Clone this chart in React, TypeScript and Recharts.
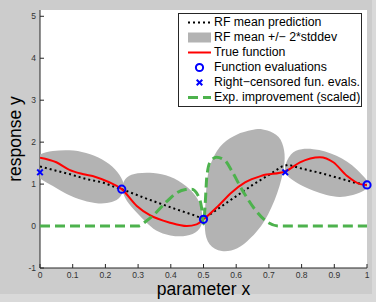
import {
  ComposedChart,
  XAxis,
  YAxis,
  Scatter,
  CartesianGrid,
  Legend,
  Curve,
} from 'recharts'

const FONT = '"Liberation Sans", Arial, Helvetica, sans-serif'

const xTicks = [0, 0.1, 0.2, 0.3, 0.4, 0.5, 0.6, 0.7, 0.8, 0.9, 1]
const yTicks = [-1, 0, 1, 2, 3, 4, 5]

// RF mean prediction (black dotted)
const meanX = [0, 0.049, 0.09, 0.141, 0.192, 0.232, 0.25, 0.33, 0.413, 0.474, 0.5, 0.515, 0.566, 0.596, 0.65, 0.7, 0.74, 0.76, 0.8, 0.86, 0.92, 0.96, 1]
const meanY = [1.42, 1.32, 1.24, 1.12, 1.04, 0.92, 0.88, 0.64, 0.41, 0.25, 0.17, 0.25, 0.53, 0.69, 0.98, 1.22, 1.42, 1.46, 1.37, 1.26, 1.13, 1.04, 0.98]

// true function (red)
const trueX = [0, 0.05, 0.09, 0.13, 0.17, 0.21, 0.25, 0.296, 0.336, 0.398, 0.449, 0.479, 0.5, 0.545, 0.586, 0.627, 0.678, 0.75, 0.795, 0.856, 0.897, 0.938, 0.979, 1]
const trueY = [1.63, 1.52, 1.34, 1.24, 1.17, 1.05, 0.88, 0.48, 0.26, 0.08, 0.0, 0.04, 0.16, 0.48, 0.8, 1.04, 1.2, 1.3, 1.52, 1.64, 1.52, 1.2, 1.0, 0.98]

// expected improvement, scaled (green dashed)
const eiX = [0, 0.3, 0.325, 0.347, 0.387, 0.42, 0.445, 0.464, 0.484, 0.494, 0.5, 0.505, 0.51, 0.52, 0.54, 0.566, 0.586, 0.617, 0.657, 0.698, 0.73, 1]
const eiY = [0, 0, 0.12, 0.26, 0.58, 0.8, 0.87, 0.88, 0.72, 0.44, 0.05, 0.5, 1.16, 1.52, 1.64, 1.56, 1.32, 0.88, 0.4, 0.08, 0, 0]

// function evaluations (blue circles) and right-censored ones (blue x)
const evalX = [0.25, 0.5, 1]
const evalY = [0.88, 0.16, 0.98]
const censX = [0, 0.75]
const censY = [1.28, 1.28]

// outlines of the mean +/- 2*stddev regions
const band1X = [-0.035, -0.01, 0.039, 0.09, 0.141, 0.192, 0.232, 0.255, 0.258, 0.248, 0.222, 0.181, 0.131, 0.08, 0.039, 0.0, -0.025]
const band1Y = [1.5, 1.7, 1.8, 1.82, 1.76, 1.6, 1.36, 1.08, 0.92, 0.68, 0.56, 0.52, 0.6, 0.76, 0.96, 1.12, 1.3]
const band2X = [0.25, 0.262, 0.296, 0.346, 0.398, 0.449, 0.477, 0.494, 0.499, 0.486, 0.449, 0.398, 0.352, 0.326, 0.275, 0.255]
const band2Y = [0.96, 1.18, 1.27, 1.28, 1.2, 0.96, 0.72, 0.48, 0.08, -0.12, -0.26, -0.24, -0.12, 0.08, 0.48, 0.72]
const band3X = [0.606, 0.637, 0.667, 0.693, 0.734, 0.749, 0.749, 0.729, 0.688, 0.642, 0.606, 0.554, 0.514, 0.502, 0.505, 0.51, 0.526, 0.556]
const band3Y = [2.21, 2.27, 2.33, 2.29, 2.16, 1.8, 1.44, 0.8, 0.08, -0.31, -0.56, -0.64, -0.46, -0.12, 0.44, 1.2, 1.61, 1.99]
const band4X = [0.744, 0.765, 0.8, 0.836, 0.872, 0.907, 0.94, 0.969, 0.992, 1.01, 0.995, 0.979, 0.95, 0.917, 0.876, 0.836, 0.8, 0.775, 0.755]
const band4Y = [1.36, 1.76, 1.85, 1.84, 1.79, 1.68, 1.54, 1.36, 1.16, 1.0, 0.86, 0.8, 0.72, 0.68, 0.73, 0.84, 0.96, 1.08, 1.2]

const pts = (xs: number[], ys: number[]) => xs.map((x, i) => ({ x, y: ys[i] }))

const bands = [pts(band1X, band1Y), pts(band2X, band2Y), pts(band3X, band3Y), pts(band4X, band4Y)]

const BAND = '#b3b3b3'
const BLUE = '#0000ff'
const GREEN = '#4db24d'
const AXIS = '#262626'

const noDot = () => <g />

// eslint-disable-next-line @typescript-eslint/no-explicit-any
const bandShape = (p: any) => <Curve points={p.points} type="basisClosed" fill={BAND} stroke="none" />

// eslint-disable-next-line @typescript-eslint/no-explicit-any
const curveOf = (type: string, stroke: string, width: number, dash?: string) => (p: any) => (
  // eslint-disable-next-line @typescript-eslint/no-explicit-any
  <Curve points={p.points} type={type as any} fill="none" stroke={stroke} strokeWidth={width} strokeDasharray={dash} />
)

// eslint-disable-next-line @typescript-eslint/no-explicit-any
const circleShape = (p: any) => <circle cx={p.cx} cy={p.cy} r={3.6} fill="none" stroke={BLUE} strokeWidth={2} />

// eslint-disable-next-line @typescript-eslint/no-explicit-any
const crossShape = (p: any) => (
  <g stroke={BLUE} strokeWidth={2}>
    <line x1={p.cx - 2.8} y1={p.cy - 2.8} x2={p.cx + 2.8} y2={p.cy + 2.8} />
    <line x1={p.cx - 2.8} y1={p.cy + 2.8} x2={p.cx + 2.8} y2={p.cy - 2.8} />
  </g>
)

const legendItems = [
  { kind: 'dots', label: 'RF mean prediction' },
  { kind: 'band', label: 'RF mean +/\u2212 2*stddev' },
  { kind: 'red', label: 'True function' },
  { kind: 'circle', label: 'Function evaluations' },
  { kind: 'cross', label: 'Right\u2212censored fun. evals.' },
  { kind: 'dash', label: 'Exp. improvement (scaled)' },
]

function LegendSymbol({ kind }: { kind: string }) {
  return (
    <svg width={35} height={15} style={{ display: 'block', flex: 'none' }}>
      {kind === 'dots' && <line x1={9} y1={7.5} x2={32} y2={7.5} stroke="#000" strokeWidth={2} strokeDasharray="2 3" />}
      {kind === 'band' && <rect x={9} y={2.5} width={23} height={10} fill={BAND} />}
      {kind === 'red' && <line x1={9} y1={7.5} x2={32} y2={7.5} stroke="#ff0000" strokeWidth={2} />}
      {kind === 'circle' && <circle cx={20.5} cy={7.5} r={3.6} fill="none" stroke={BLUE} strokeWidth={2} />}
      {kind === 'cross' && (
        <g stroke={BLUE} strokeWidth={2}>
          <line x1={17.7} y1={4.7} x2={23.3} y2={10.3} />
          <line x1={17.7} y1={10.3} x2={23.3} y2={4.7} />
        </g>
      )}
      {kind === 'dash' && <line x1={9} y1={7.5} x2={32} y2={7.5} stroke={GREEN} strokeWidth={3} strokeDasharray="10 5" />}
    </svg>
  )
}

function LegendBox() {
  return (
    <div
      style={{
        background: '#fff',
        border: `1px solid ${AXIS}`,
        width: 182,
        padding: '1px 0 1px 0',
        fontFamily: FONT,
        fontSize: 12.3,
        color: '#000',
      }}
    >
      {legendItems.map(it => (
        <div key={it.label} style={{ display: 'flex', alignItems: 'center', height: 15, whiteSpace: 'nowrap' }}>
          <LegendSymbol kind={it.kind} />
          <span style={{ lineHeight: '15px' }}>{it.label}</span>
        </div>
      ))}
    </div>
  )
}

// eslint-disable-next-line @typescript-eslint/no-explicit-any
const xLabel = (p: any) => (
  <text x={p.viewBox.x + p.viewBox.width / 2} y={p.viewBox.y + 27} textAnchor="middle" fontSize={17.5} fontFamily={FONT} fill="#000">
    parameter x
  </text>
)

// eslint-disable-next-line @typescript-eslint/no-explicit-any
const yLabel = (p: any) => {
  const cx = p.viewBox.x + 5
  const cy = p.viewBox.y + p.viewBox.height / 2
  return (
    <text x={cx} y={cy} transform={`rotate(-90 ${cx} ${cy})`} textAnchor="middle" dominantBaseline="central" fontSize={17.5} fontFamily={FONT} fill="#000">
      response y
    </text>
  )
}

const tickStyle = { fontSize: 8.5, fill: '#333', fontFamily: FONT }

export default function App() {
  return (
    <div style={{ position: 'absolute', left: 0, top: 0, width: 376, height: 302, background: '#d9d9d9' }}>
      <div style={{ position: 'absolute', left: 0, top: 0, width: 372, height: 294, background: '#cccccc' }} />
      <div style={{ position: 'absolute', left: 0, top: 0 }}>
        <ComposedChart width={376} height={302} margin={{ top: 10, right: 9, bottom: 14, left: 10 }}>
          <CartesianGrid fill="#ffffff" horizontal={false} vertical={false} />
          <XAxis
            xAxisId="main"
            type="number"
            dataKey="x"
            domain={[0, 1]}
            ticks={xTicks}
            interval={0}
            allowDataOverflow
            height={20}
            tickSize={-4}
            tickMargin={8}
            stroke={AXIS}
            tick={tickStyle}
            tickFormatter={(v: number) => String(v)}
            label={{ content: xLabel }}
          />
          <XAxis
            xAxisId="top"
            orientation="top"
            type="number"
            dataKey="x"
            domain={[0, 1]}
            ticks={xTicks}
            interval={0}
            height={0}
            tickSize={-4}
            tick={false}
            stroke={AXIS}
          />
          <YAxis
            yAxisId="main"
            type="number"
            dataKey="y"
            domain={[-1, 5.15]}
            ticks={yTicks}
            interval={0}
            allowDataOverflow
            width={30}
            tickSize={-4}
            tickMargin={8}
            stroke={AXIS}
            tick={tickStyle}
            label={{ content: yLabel }}
          />
          <YAxis
            yAxisId="right"
            orientation="right"
            type="number"
            dataKey="y"
            domain={[-1, 5.15]}
            ticks={yTicks}
            interval={0}
            width={0}
            tickSize={-4}
            tick={false}
            stroke={AXIS}
          />

          {bands.map((b, i) => (
            <Scatter
              key={i}
              name={`band${i}`}
              xAxisId="main"
              yAxisId="main"
              data={b}
              shape={noDot}
              line={bandShape}
              legendType="none"
              isAnimationActive={false}
            />
          ))}

          <Scatter
            name="RF mean prediction"
            xAxisId="main"
            yAxisId="main"
            data={pts(meanX, meanY)}
            shape={noDot}
            line={curveOf('linear', '#000', 2, '2 3')}
            isAnimationActive={false}
          />
          <Scatter
            name="True function"
            xAxisId="main"
            yAxisId="main"
            data={pts(trueX, trueY)}
            shape={noDot}
            line={curveOf('monotoneX', '#ff0000', 2)}
            isAnimationActive={false}
          />
          <Scatter
            name="Exp. improvement (scaled)"
            xAxisId="main"
            yAxisId="main"
            data={pts(eiX, eiY)}
            shape={noDot}
            line={curveOf('monotoneX', GREEN, 3, '10 5')}
            isAnimationActive={false}
          />
          <Scatter name="Function evaluations" xAxisId="top" yAxisId="right" data={pts(evalX, evalY)} shape={circleShape} isAnimationActive={false} />
          <Scatter name="Right-censored fun. evals." xAxisId="top" yAxisId="right" data={pts(censX, censY)} shape={crossShape} isAnimationActive={false} />

          <Legend
            layout="vertical"
            align="center"
            verticalAlign="middle"
            content={<LegendBox />}
            wrapperStyle={{ left: 178, top: 13, width: 'auto', height: 'auto', right: 'auto', bottom: 'auto' }}
          />
        </ComposedChart>
      </div>
    </div>
  )
}
